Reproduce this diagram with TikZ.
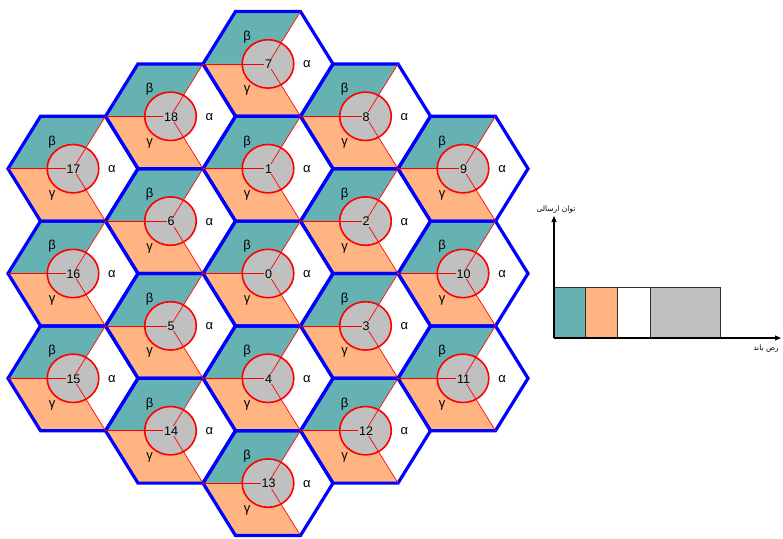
\documentclass[tikz,border=0pt]{standalone}
\usepackage{fontspec}
\setmainfont{Liberation Sans}
\newfontfamily\arabicfont[Script=Arabic]{DejaVu Sans}
\TeXXeTstate=1
\usetikzlibrary{arrows.meta}
\definecolor{tealc}{RGB}{102,178,178}
\definecolor{orangec}{RGB}{255,180,130}
\definecolor{grayc}{RGB}{192,192,192}
\definecolor{bluec}{RGB}{0,0,255}
\definecolor{redc}{RGB}{255,0,0}
\definecolor{barline}{RGB}{60,40,30}
\tikzset{
  hexline/.style={draw=bluec,line width=3.2pt,line join=miter},
  spoke/.style={draw=redc,line width=0.7pt},
  cell/.style={draw=redc,line width=1.6pt,fill=grayc},
  numlab/.style={fill=grayc,inner sep=0.6pt,font=\fontsize{12.5}{13}\selectfont},
  greek/.style={inner sep=0pt,font=\fontsize{13}{13}\selectfont},
  axisline/.style={draw=black,line width=1.2pt,-{Triangle[length=6pt,width=5pt]}},
  bar/.style={draw=barline,line width=0.9pt},
  arlab/.style={inner sep=0pt,font=\arabicfont\fontsize{7.5}{8}\selectfont}
}
\newcommand{\hexlist}{268/63.9/7, 268/168.7/1, 268/273.5/0, 268/378.3/4, 268/483.1/13,
  365.5/116.3/8, 365.5/221.1/2, 365.5/325.9/3, 365.5/430.7/12,
  170.5/116.3/18, 170.5/221.1/6, 170.5/325.9/5, 170.5/430.7/14,
  463/168.7/9, 463/273.5/10, 463/378.3/11,
  73/168.7/17, 73/273.5/16, 73/378.3/15}
\begin{document}
\begin{tikzpicture}[x=1pt,y=-1pt]
\useasboundingbox (0,0) rectangle (783,538);
% fills
\foreach \cx/\cy/\n in \hexlist {
  \begin{scope}[shift={(\cx,\cy)}]
    \fill[tealc] (0,0) -- (-65,0) -- (-32.5,-52.4) -- (32.5,-52.4) -- cycle;
    \fill[orangec] (0,0) -- (-65,0) -- (-32.5,52.4) -- (32.5,52.4) -- cycle;
    \fill[white] (0,0) -- (32.5,-52.4) -- (65,0) -- (32.5,52.4) -- cycle;
  \end{scope}
}
% outlines
\foreach \cx/\cy/\n in \hexlist {
  \begin{scope}[shift={(\cx,\cy)}]
    \path[hexline] (-65,0) -- (-32.5,-52.4) -- (32.5,-52.4) -- (65,0) -- (32.5,52.4) -- (-32.5,52.4) -- cycle;
  \end{scope}
}
% cells
\foreach \cx/\cy/\n in \hexlist {
  \begin{scope}[shift={(\cx,\cy)}]
    \fill[grayc] (0,0) ellipse [x radius=25.8, y radius=24.2];
    \coordinate (c\n) at (0,0);
    \coordinate (l\n) at (-65,0);
    \coordinate (tr\n) at (32.5,-52.4);
    \coordinate (br\n) at (32.5,52.4);
    \draw[spoke] (c\n) -- (l\n);
    \draw[spoke] (c\n) -- (tr\n);
    \draw[spoke] (c\n) -- (br\n);
    \draw[draw=redc,line width=1.6pt] (0,0) ellipse [x radius=25.8, y radius=24.2];
    \node[numlab] (num\n) at (0.5,0.5) {\n};
    \node[greek] (b\n) at (-21,-27) {β};
    \node[greek] (g\n) at (-21,27) {γ};
    \node[greek] (a\n) at (39,0.5) {α};
  \end{scope}
}
% chart
\coordinate (o) at (554,338);
\coordinate (ytop) at (554,216);
\coordinate (xend) at (781,338);
\path[fill=tealc,bar] (554,287.7) rectangle (585,338);
\path[fill=orangec,bar] (585,287.7) rectangle (617.3,338);
\path[fill=white,bar] (617.3,287.7) rectangle (650,338);
\path[fill=grayc,bar] (650,287.7) rectangle (720,338);
\draw[axisline] (o) -- (ytop);
\draw[axisline] (o) -- (xend);
\node[arlab] (ylab) at (556,210) {\beginR توان ارسالی\endR};
\node[arlab] (xlab) at (766,349) {\beginR رض باند\endR};
\end{tikzpicture}
\end{document}
